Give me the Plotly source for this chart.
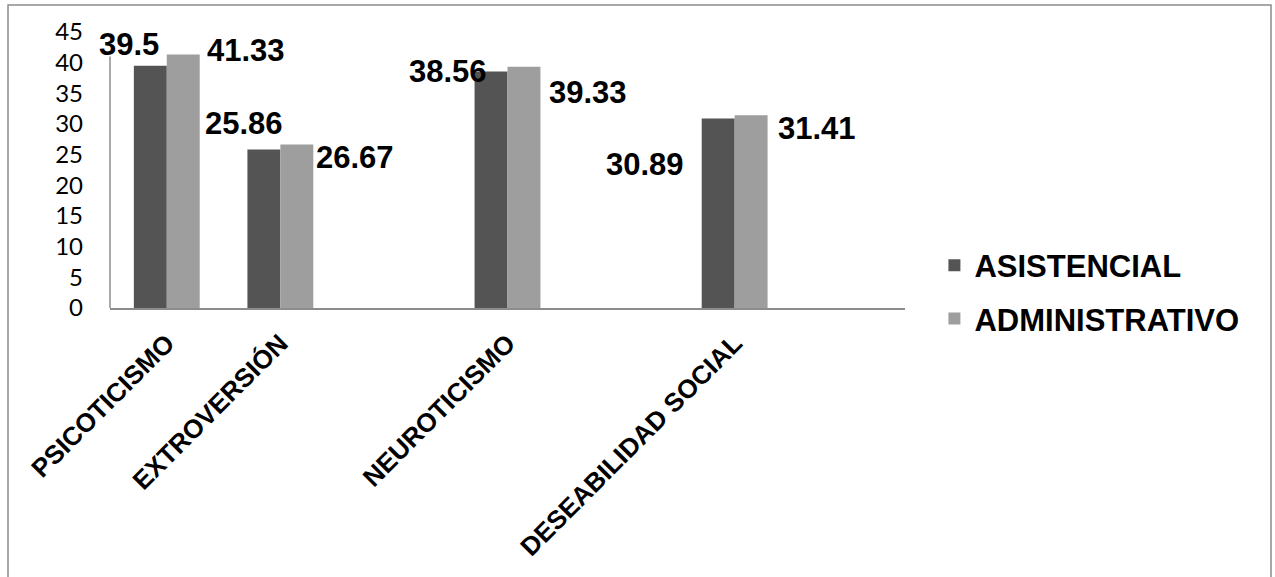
import plotly.graph_objects as go

categories = ["PSICOTICISMO", "EXTROVERSIÓN", " ", "NEUROTICISMO", "  ", "DESEABILIDAD SOCIAL", "   "]
asistencial = [39.5, 25.86, None, 38.56, None, 30.89, None]
administrativo = [41.33, 26.67, None, 39.33, None, 31.41, None]
series_names = ["ASISTENCIAL", "ADMINISTRATIVO"]
y_ticks = [0, 5, 10, 15, 20, 25, 30, 35, 40, 45]

# label offsets (pixels) relative to category centre / bar top
asis_offsets = [(-38, 21), (-36, 26), None, (-60, 0), None, (-90, -46), None]
admin_offsets = [(79, 4), (75, -13), None, (80, -26), None, (82, -13), None]

DARK = "#545454"
LIGHT = "#9e9e9e"
BOLD_FONT = "Liberation Sans, Arial, sans-serif"

fig = go.Figure()
fig.add_trace(go.Bar(x=categories, y=asistencial, name=series_names[0],
                     marker=dict(color=DARK, line=dict(width=0)), legendgroup="a"))
fig.add_trace(go.Bar(x=categories, y=administrativo, name=series_names[1],
                     marker=dict(color=LIGHT, line=dict(width=0)), legendgroup="b"))

annotations = []
for vals, offs in ((asistencial, asis_offsets), (administrativo, admin_offsets)):
    for cat, v, o in zip(categories, vals, offs):
        if v is None:
            continue
        annotations.append(dict(
            x=cat, y=v, xref="x", yref="y", text=f"{v:g}", showarrow=False,
            xshift=o[0], yshift=o[1], xanchor="center", yanchor="middle",
            font=dict(family=BOLD_FONT, size=31, color="#000000", weight="bold")))

shapes = [
    # y axis line (stops below the top tick)
    dict(type="line", xref="paper", yref="y", x0=0, x1=0, y0=0, y1=41,
         line=dict(color="#8c8c8c", width=1.5)),
    # outer chart border
    dict(type="rect", xref="paper", yref="paper", x0=-0.1283, x1=1.4604,
         y0=-1.05, y1=1.0978, line=dict(color="#8c8c8c", width=1.5),
         fillcolor="rgba(0,0,0,0)", layer="below"),
]

fig.update_layout(
    width=1275, height=577,
    margin=dict(l=110, r=370, t=32, b=269, autoexpand=False),
    paper_bgcolor="white", plot_bgcolor="white",
    barmode="group", bargap=0.42, bargroupgap=0,
    showlegend=True,
    legend=dict(x=1.037, y=0.058, xanchor="left", yanchor="middle",
                font=dict(family=BOLD_FONT, size=31, color="#000000", weight="bold"),
                tracegroupgap=10, traceorder="grouped",
                itemwidth=30, bgcolor="rgba(0,0,0,0)"),
    annotations=annotations,
    shapes=shapes,
    xaxis=dict(type="category", categoryorder="array", categoryarray=categories,
               range=[-0.5, len(categories) - 0.5],
               showline=True, linecolor="#8c8c8c", linewidth=1.5,
               showgrid=False, ticks="", tickangle=-45,
               tickfont=dict(family=BOLD_FONT, size=26, color="#000000", weight="bold"),
               ticklabelstandoff=8, zeroline=False, fixedrange=True),
    yaxis=dict(range=[0, 45], tickvals=y_ticks, showline=False, showgrid=False,
               zeroline=False, ticks="", ticklabelstandoff=26,
               tickfont=dict(family="Lato, Carlito, sans-serif", size=24, color="#000000")),
)

fig.write_html("out.html")
